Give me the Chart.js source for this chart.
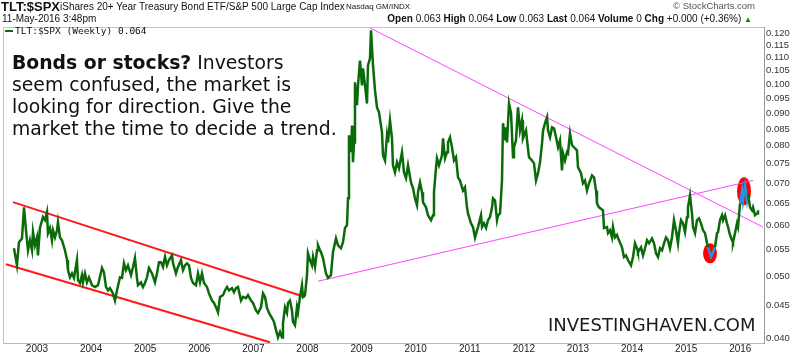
<!DOCTYPE html>
<html>
<head>
<meta charset="utf-8">
<script src="https://cdn.jsdelivr.net/npm/chart.js@4/dist/chart.umd.min.js"></script>
<style>
  html,body{margin:0;padding:0;background:#fff;}
  #wrap{position:relative;width:800px;height:355px;overflow:hidden;background:#fff;}
  canvas{position:absolute;left:0;top:0;}
  .t{position:absolute;white-space:nowrap;color:#111;font-family:"Liberation Sans",Arial,sans-serif;line-height:1;}
</style>
</head>
<body>
<div id="wrap">
  <canvas id="c" width="800" height="355"></canvas>
  <div class="t" style="left:1px;top:0px;font-size:13px;font-weight:bold;">TLT:$SPX</div>
  <div class="t" style="left:60px;top:2px;font-size:10px;">iShares 20+ Year Treasury Bond ETF/S&amp;P 500 Large Cap Index</div>
  <div class="t" style="left:346px;top:3px;font-size:8px;">Nasdaq GM/INDX</div>
  <div class="t" style="right:45px;top:1px;font-size:9.5px;color:#555;">© StockCharts.com</div>
  <div class="t" style="left:2px;top:14px;font-size:10px;">11-May-2016 3:48pm</div>
  <div class="t" style="right:48px;top:14px;font-size:10px;"><b>Open</b> 0.063 <b>High</b> 0.064 <b>Low</b> 0.063 <b>Last</b> 0.064 <b>Volume</b> 0 <b>Chg</b> +0.000 (+0.36%) <span style="color:#0a8a0a;font-size:8px;">▲</span></div>
  <div style="position:absolute;left:5px;top:30px;width:8px;height:2px;background:#0b6b0b;"></div>
  <div class="t" style="left:15px;top:26px;font-size:9.5px;font-family:'DejaVu Sans Mono',monospace;">TLT:$SPX (Weekly) 0.064</div>
  <div class="t" style="left:12px;top:52px;font-size:18.8px;line-height:22px;font-family:'DejaVu Sans',Verdana,sans-serif;color:#111;"><b>Bonds or stocks?</b> Investors<br>seem confused, the market is<br>looking for direction. Give the<br>market the time to decide a trend.</div>
  <div class="t" style="left:548px;top:315px;font-size:18px;line-height:20px;font-family:'DejaVu Sans',Verdana,sans-serif;color:#1a1a1a;">INVESTINGHAVEN.COM</div>
</div>
<script>
// ---- data (decimal years / TLT:$SPX ratio, weekly) ----
const dates = [
 2002.575,2002.630,2002.667,2002.723,2002.760,2002.797,2002.834,2002.871,2002.908,2002.926,
 2002.963,2003.000,2003.018,2003.055,2003.111,2003.148,2003.185,2003.203,2003.240,2003.277,
 2003.296,2003.333,2003.370,2003.388,2003.425,2003.462,2003.518,2003.555,2003.573,2003.610,
 2003.647,2003.684,2003.739,2003.758,2003.795,2003.832,2003.850,2003.887,2003.924,2003.961,
 2004.017,2004.072,2004.128,2004.202,2004.238,2004.275,2004.312,2004.349,2004.405,2004.442,
 2004.479,2004.534,2004.571,2004.608,2004.645,2004.682,2004.738,2004.775,2004.811,2004.848,
 2004.867,2004.922,2004.959,2004.996,2005.033,2005.070,2005.126,2005.181,2005.218,2005.255,
 2005.292,2005.329,2005.366,2005.403,2005.440,2005.495,2005.514,2005.569,2005.606,2005.662,
 2005.699,2005.736,2005.773,2005.810,2005.847,2005.884,2005.939,2005.976,2006.013,2006.050,
 2006.087,2006.142,2006.179,2006.235,2006.272,2006.309,2006.346,2006.383,2006.438,2006.475,
 2006.512,2006.549,2006.604,2006.641,2006.678,2006.715,2006.771,2006.808,2006.863,2006.900,
 2006.956,2006.993,2007.048,2007.085,2007.141,2007.178,2007.215,2007.252,2007.289,2007.344,
 2007.381,2007.418,2007.455,2007.492,2007.529,2007.547,2007.584,2007.621,2007.640,2007.676,
 2007.713,2007.732,2007.769,2007.806,2007.824,2007.861,2007.898,2007.917,2007.954,2007.991,
 2008.009,2008.046,2008.083,2008.102,2008.139,2008.176,2008.194,2008.231,
 2008.250,2008.287,2008.342,2008.379,2008.434,2008.471,2008.527,2008.564,2008.619,2008.656,
 2008.693,2008.730,2008.749,2008.767,2008.804,2008.823,2008.841,2008.860,2008.878,2008.915,
 2008.934,2008.970,2009.007,2009.026,2009.063,2009.100,2009.118,2009.155,2009.174,2009.211,
 2009.248,2009.285,2009.322,2009.377,2009.396,2009.433,2009.470,2009.488,2009.525,2009.562,
 2009.580,2009.617,2009.654,2009.691,2009.747,2009.784,2009.821,2009.858,2009.913,2009.950,
 2009.987,2010.024,2010.043,2010.080,2010.117,2010.135,2010.190,2010.227,2010.283,2010.320,
 2010.338,2010.375,2010.394,2010.431,2010.486,2010.505,2010.542,2010.579,2010.597,2010.634,
 2010.671,2010.708,2010.745,2010.782,2010.819,2010.874,2010.911,2010.948,2010.967,2011.022,
 2011.059,2011.096,2011.133,2011.152,2011.207,2011.226,2011.263,2011.300,2011.337,2011.374,
 2011.411,2011.429,2011.466,2011.503,2011.522,2011.559,2011.595,2011.614,2011.651,2011.670,
 2011.688,2011.725,2011.762,2011.799,2011.817,2011.854,2011.891,2011.928,2011.965,2011.983,
 2012.039,2012.058,2012.094,2012.150,2012.187,2012.224,2012.261,2012.298,2012.335,2012.354,
 2012.391,2012.428,2012.446,2012.483,2012.520,2012.557,2012.594,2012.631,2012.667,2012.704,
 2012.723,2012.760,2012.797,2012.815,2012.852,2012.889,2012.926,2012.981,2013.000,2013.056,
 2013.092,2013.129,2013.166,2013.203,2013.259,2013.296,2013.333,2013.351,2013.388,
 2013.462,2013.481,2013.536,2013.555,2013.592,2013.629,2013.647,2013.684,2013.721,2013.758,
 2013.813,2013.850,2013.887,2013.924,2013.980,2014.017,2014.054,2014.091,2014.109,2014.165,
 2014.202,2014.239,2014.276,2014.313,2014.368,2014.405,2014.442,2014.479,2014.516,2014.553,
 2014.590,2014.627,2014.664,2014.700,2014.737,2014.774,2014.811,2014.848,2014.867,2014.904,
 2014.941,2014.978,2015.015,2015.033,2015.070,2015.107,2015.126,2015.163,2015.200,2015.237,
 2015.274,2015.311,2015.348,2015.385,2015.403,2015.459,2015.495,2015.532,2015.569,2015.588,
 2015.625,2015.662,2015.681,2015.718,2015.754,2015.773,2015.810,2015.847,2015.865,2015.902,
 2015.939,2015.958,2015.995,2016.032,2016.050,2016.087,2016.124,2016.143,2016.180,2016.217,
 2016.235,2016.272,2016.309,2016.327
];
const ratio = [
 .0553,.0520,.0565,.0573,.0641,.0590,.0549,.0569,.0549,.0586,
 .0559,.0575,.0539,.0595,.0619,.0612,.0630,.0584,.0595,.0569,
 .0590,.0575,.0590,.0607,.0575,.0569,.0549,.0530,.0511,.0498,
 .0505,.0497,.0530,.0493,.0488,.0502,.0489,.0505,.0489,.0498,
 .0484,.0481,.0484,.0515,.0507,.0481,.0475,.0479,.0470,.0458,
 .0475,.0498,.0497,.0524,.0511,.0520,.0502,.0517,.0534,.0497,
 .0484,.0489,.0481,.0488,.0498,.0515,.0505,.0489,.0505,.0526,
 .0526,.0517,.0536,.0520,.0530,.0539,.0524,.0505,.0517,.0530,
 .0511,.0520,.0524,.0520,.0497,.0488,.0484,.0505,.0489,.0505,
 .0488,.0481,.0470,.0458,.0454,.0447,.0439,.0464,.0467,.0475,
 .0481,.0475,.0479,.0472,.0479,.0481,.0458,.0464,.0462,.0467,
 .0458,.0454,.0442,.0438,.0447,.0470,.0464,.0446,.0438,.0430,
 .0424,.0412,.0401,.0409,.0401,.0422,.0447,.0438,.0454,.0458,
 .0442,.0424,.0419,.0447,.0439,.0464,.0484,.0464,.0467,.0502,
 .0543,.0530,.0520,.0536,.0517,.0549,.0559,.0549,
 .0545,.0534,.0505,.0497,.0502,.0545,.0573,.0559,.0553,.0565,
 .0595,.0601,.0662,.0831,.0782,.0861,.0754,.0810,.1006,.0926,
 .0995,.1088,.0995,.1058,.0995,.0932,.1069,.1097,.1213,.1069,
 .0977,.0919,.0903,.0840,.0773,.0759,.0831,.0810,.0877,.0822,
 .0746,.0727,.0754,.0738,.0782,.0727,.0712,.0746,.0701,.0687,
 .0662,.0646,.0677,.0701,.0677,.0653,.0641,.0623,.0612,.0623,
 .0677,.0738,.0765,.0746,.0773,.0822,.0765,.0782,.0810,.0825,
 .0796,.0759,.0768,.0714,.0706,.0681,.0689,.0641,.0627,.0605,
 .0597,.0575,.0590,.0597,.0623,.0597,.0605,.0595,.0612,.0619,
 .0641,.0662,.0657,.0612,.0623,.0627,.0706,.0868,.0816,.0855,
 .0810,.0932,.0900,.0768,.0796,.0816,.0919,.0846,.0877,.0822,
 .0846,.0816,.0768,.0759,.0751,.0706,.0725,.0754,.0807,.0846,
 .0868,.0887,.0846,.0825,.0855,.0852,.0825,.0796,.0816,.0732,
 .0779,.0759,.0782,.0779,.0837,.0802,.0796,.0787,.0741,.0725,
 .0699,.0706,.0681,.0699,.0719,.0714,.0681,.0650,.0641,
 .0634,.0595,.0597,.0584,.0590,.0575,.0597,.0575,.0580,.0569,
 .0555,.0536,.0539,.0530,.0520,.0536,.0563,.0553,.0545,.0555,
 .0539,.0553,.0569,.0563,.0573,.0563,.0543,.0536,.0553,.0549,
 .0563,.0575,.0569,.0553,.0575,.0612,.0590,.0563,.0584,.0612,
 .0605,.0586,.0619,.0641,.0669,.0627,.0597,.0584,.0612,.0616,
 .0605,.0590,.0584,.0563,.0555,.0536,.0545,.0555,.0584,.0586,
 .0612,.0623,.0612,.0623,.0605,.0597,.0580,.0569,.0565,.0584,
 .0605,.0597,.0650,.0681,.0657,.0694,.0657,.0674,.0641,.0634,
 .0641,.0623,.0627,.0634
];
// trend lines: [startYear, startValue, endYear, endValue]
const redUpper  = [2002.556, 0.0653, 2007.954, 0.0464];
const redLower  = [2002.427, 0.0522, 2007.307, 0.0394];
const pinkDown  = [2009.137, 0.1226, 2016.419, 0.0597];
const pinkUp    = [2008.194, 0.0491, 2016.235, 0.0706];
// highlighted zones (ellipse centres) and blue-marked ranges
const markYears  = [2015.440, 2016.069];
const markValues = [0.0543, 0.0679];
const blueRanges = [[2015.39, 2015.50], [2015.99, 2016.14]];
// axis ticks
const yearTicks = [2003,2004,2005,2006,2007,2008,2009,2010,2011,2012,2013,2014,2015,2016];
const valueTicks = [0.040,0.045,0.050,0.055,0.060,0.065,0.070,0.075,0.080,0.085,0.090,0.095,0.100,0.105,0.110,0.115,0.120];

const seg = a => [{x:a[0], y:a[1]}, {x:a[2], y:a[3]}];
const inBlue = x => blueRanges.some(r => x >= r[0] && x <= r[1]);

const ellipsePlugin = {
  id: 'marks',
  beforeDatasetsDraw(chart) {
    const {ctx, scales:{x, y}} = chart;
    const radii = [[7,10],[7,14]];
    ctx.save();
    ctx.fillStyle = '#ff0000';
    markYears.forEach((yr, i) => {
      ctx.beginPath();
      ctx.ellipse(x.getPixelForValue(yr), y.getPixelForValue(markValues[i]), radii[i][0], radii[i][1], 0, 0, Math.PI*2);
      ctx.fill();
    });
    ctx.restore();
  },
  afterDraw(chart) {
    const {ctx, chartArea:a} = chart;
    ctx.save();
    ctx.strokeStyle = '#c4c4c4';
    ctx.lineWidth = 1;
    ctx.beginPath();
    ctx.moveTo(a.left + 0.5, a.bottom);
    ctx.lineTo(a.left + 0.5, a.top + 0.5);
    ctx.lineTo(a.right, a.top + 0.5);
    ctx.stroke();
    ctx.restore();
  }
};

new Chart(document.getElementById('c'), {
  type: 'line',
  data: {
    datasets: [
      {
        data: dates.map((d, i) => ({x: d, y: ratio[i]})),
        borderColor: '#0b6b0b',
        borderWidth: 2.5,
        pointRadius: 0,
        tension: 0,
        segment: { borderColor: c => inBlue(c.p0.parsed.x) ? '#2a8fdc' : undefined }
      },
      { data: seg(redUpper), borderColor: '#ff1a1a', borderWidth: 2, pointRadius: 0 },
      { data: seg(redLower), borderColor: '#ff1a1a', borderWidth: 2, pointRadius: 0 },
      { data: seg(pinkDown), borderColor: '#ff44ff', borderWidth: 1, pointRadius: 0 },
      { data: seg(pinkUp),   borderColor: '#ff44ff', borderWidth: 1, pointRadius: 0 }
    ]
  },
  options: {
    responsive: false,
    animation: false,
    devicePixelRatio: 1,
    layout: { padding: { left: 3, top: 27, right: 0, bottom: 0 } },
    plugins: { legend: { display: false }, tooltip: { enabled: false } },
    scales: {
      x: {
        type: 'linear',
        min: 2002.372, max: 2016.438,
        afterBuildTicks: s => { s.ticks = yearTicks.map(v => ({value: v})); },
        afterFit: s => { s.height = 12; },
        ticks: { callback: v => String(v), autoSkip: false, maxRotation: 0, padding: 0,
                 font: { family: 'Liberation Sans', size: 10 }, color: '#222' },
        grid: { display: false, drawTicks: false },
        border: { display: true, color: '#b8b8b8', width: 1 }
      },
      y: {
        type: 'logarithmic',
        position: 'right',
        min: 0.0393, max: 0.1228,
        afterBuildTicks: s => { s.ticks = valueTicks.map(v => ({value: v})); },
        afterFit: s => { s.width = 36; },
        ticks: { callback: v => Number(v).toFixed(3), autoSkip: false, padding: 2,
                 font: { family: 'Liberation Sans', size: 9.5 }, color: '#333' },
        grid: { display: false, drawTicks: false },
        border: { display: true, color: '#999', width: 1, dash: [1, 1] }
      }
    }
  },
  plugins: [ellipsePlugin]
});
</script>
</body>
</html>
